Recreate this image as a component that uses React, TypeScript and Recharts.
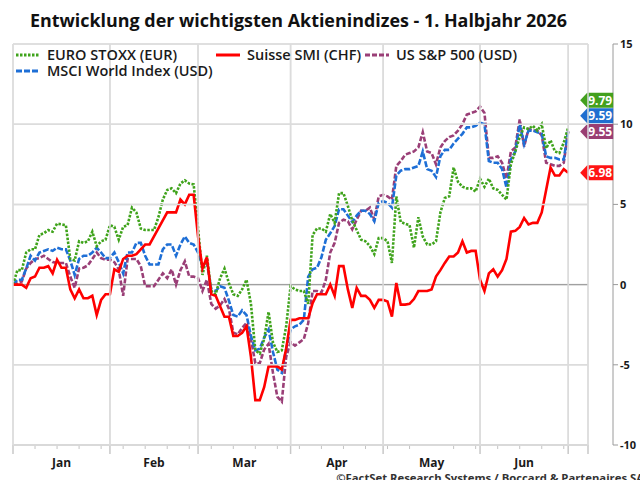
import React from "react";
import { LineChart, Line, XAxis, YAxis, ReferenceLine, ReferenceDot, CartesianGrid } from "recharts";

const FONT = "'Open Sans', 'DejaVu Sans', sans-serif";

const title = "Entwicklung der wichtigsten Aktienindizes - 1. Halbjahr 2026";
const footer = "©FactSet Research Systems / Boccard & Partenaires SA";

const monthLabels = ["Jan", "Feb", "Mar", "Apr", "May", "Jun"];
const monthStarts = [0, 22, 42, 63, 84, 106, 126];
const X_MAX = 130.5;
const yTicks = [-10, -5, 0, 5, 10, 15];

const euroStoxx = [
  0, 0.9, 0.9, 2.0, 2.2, 2.2, 3.1, 3.2, 3.4, 3.3,
  3.8, 3.75, 3.7, 1.6, 1.5, 2.7, 2.6, 2.7, 3.3, 2.4,
  2.7, 2.8, 3.7, 3.6, 2.8, 3.6, 3.7, 4.8, 4.5, 3.5,
  3.4, 3.4, 3.4, 4.2, 5.3, 5.9, 6.0, 5.7, 6.3, 6.5,
  6.3, 6.25, 3.5, 0.6, 1.8, -0.4, -0.6, 0.4, 1.0, 0.1,
  -0.6, -0.7, -0.3, 0.3, -1.2, -4.1, -4.3, -3.4, -1.7, -3.6,
  -4.2, -4.1, -2.6, -0.1, -0.3, -0.4, -0.4, -1.2, 3.1, 3.5,
  3.5, 3.3, 4.4, 3.85, 5.7, 5.7, 4.9, 4.0, 3.4, 2.8,
  2.7, 2.4, 1.9, 2.9, 2.9, 2.7, 1.35, 5.5, 3.9, 3.8,
  3.7, 2.3, 4.2, 3.0, 2.5, 2.5, 2.7, 4.5, 5.4, 5.5,
  7.3, 6.4, 6.1, 6.0, 6.0, 5.8, 6.6, 6.1, 6.6, 6.0,
  5.9, 5.6, 5.3, 7.5, 8.3, 9.2, 9.8, 9.7, 9.9, 9.6,
  10.0, 8.5, 9.0, 8.3, 8.2, 8.85, 9.79,
];

const msciWorld = [
  0, 0.3, 0.3, 1.0, 1.8, 1.5, 2.0, 2.1, 2.2, 2.1,
  2.3, 2.2, 2.2, 1.5, 0.6, 1.6, 1.8, 1.8, 2.0, 2.3,
  2.0, 1.65, 1.65, 2.0, 1.4, 0.7, 2.0, 2.0, 2.6, 2.6,
  1.8, 1.25, 1.25, 1.25, 2.2, 2.5, 2.5, 1.8, 2.5, 3.0,
  2.6, 2.5, 2.0, 1.15, 1.4, -0.3, -0.4, -0.1, -0.2, -1.0,
  -1.9, -2.0, -1.6, -1.9, -3.2, -4.1, -4.0, -3.3, -2.8, -4.2,
  -5.3, -5.5, -4.0, -2.8, -2.6, -2.5, -2.2, 0.5, 0.95, 1.05,
  1.7, 2.8, 3.2, 3.65, 4.7, 4.7, 4.3, 3.9, 4.3, 4.6,
  4.6, 4.4, 3.95, 5.1, 5.2, 5.1, 4.8, 6.8, 7.1, 7.2,
  7.2, 7.3, 7.4, 8.3, 7.2, 7.1, 6.7, 8.0, 8.4, 8.4,
  8.8, 9.1, 9.4, 9.8, 9.8, 9.9, 10.1, 10.0, 7.7, 7.6,
  7.6, 7.2, 6.05, 7.8, 8.3, 10.0, 8.75, 9.6, 9.6, 9.5,
  9.4, 8.0, 7.9, 7.9, 7.8, 7.8, 9.59,
];

const sp500 = [
  0, 0.1, 0.2, 1.0, 1.35, 1.6, 1.65, 1.8, 1.6, 1.4,
  1.35, 1.35, 1.35, 0.5, -0.2, 1.0, 1.05, 1.2, 1.6, 2.0,
  1.65, 1.55, 1.55, 1.4, 0.95, -0.7, 1.6, 1.6, 1.6, 1.15,
  -0.1, -0.1, -0.1, 0.3, 0.7, 0.4, 0.95, 0.0, 0.9, 1.45,
  0.5, 0.5, 0.4, -0.4, 0.3, -1.2, -1.5, -1.3, -0.9, -1.5,
  -3.0, -3.1, -2.7, -2.4, -3.4, -4.9, -4.9, -4.05, -3.7, -5.5,
  -7.0, -7.3, -4.5, -3.6, -3.8, -3.6, -3.4, -2.4, -0.4, -0.4,
  -0.5, 0.3, 2.0, 2.6, 3.85, 4.05, 3.95, 3.45, 4.05, 4.6,
  4.6, 4.8, 4.05, 5.5, 5.6, 5.5, 5.3, 7.4, 7.7, 8.1,
  8.2, 8.3, 8.55, 9.5, 8.3, 8.2, 7.5, 8.55, 8.95, 9.2,
  9.3, 9.6, 10.0, 10.6, 10.7, 10.8, 11.1, 10.7, 7.9, 7.9,
  8.0, 7.6, 6.6, 8.3, 8.55, 10.3, 8.6, 9.7, 9.6, 9.6,
  9.3, 7.6, 7.5, 7.4, 7.4, 7.6, 9.55,
];

const smi = [
  0, 0, 0, -0.2, 0.4, 0.5, 1.05, 1.05, 1.15, 0.7,
  1.55, 1.05, 1.05, -0.3, -0.85, -0.3, -0.85, -0.85, -0.7, -1.9,
  -0.95, -0.6, -0.6, 0.95, 0.8, 1.6, 1.8, 1.8, 1.9, 2.2,
  2.5, 2.5, 3.0, 3.5, 4.0, 4.5, 4.5, 4.5, 5.3, 5.0,
  5.6, 5.6, 3.0, 1.0, 1.7, -0.6, -0.7, -1.35, -2.0, -2.0,
  -3.2, -3.2, -3.0, -2.6, -4.5, -7.2, -7.2, -6.4, -5.1, -5.1,
  -5.1, -5.3, -4.0, -2.2, -2.2, -2.1, -2.1, -2.1, -1.15, -0.6,
  -0.6, -0.6, 0.0, -0.7, 1.15, 1.15, -0.3, -1.45, -0.2, -0.7,
  -0.7, -0.95, -1.45, -0.95, -0.95, -1.05, -2.0, 0.1, -1.25, -1.25,
  -1.2, -0.9, -0.4, -0.4, -0.4, -0.3, 0.5, 0.9, 1.35, 1.75,
  1.75, 2.0, 2.7, 2.0, 2.1, 2.1, 0.3, -0.4, 0.7, 0.95,
  0.5, 0.9, 1.6, 3.3, 3.35, 3.6, 4.15, 3.75, 3.85, 3.85,
  4.5, 5.9, 7.3, 6.8, 6.8, 7.2, 6.98,
];

const series = [
  { key: "sp500", name: "US S&P 500 (USD)", values: sp500, color: "#9A3F77", tag: "#9A3E73", dash: "5 2" },
  { key: "msci", name: "MSCI World Index (USD)", values: msciWorld, color: "#1E6FD6", tag: "#1F6FD0", dash: "6 2" },
  { key: "euro", name: "EURO STOXX (EUR)", values: euroStoxx, color: "#3FA31B", tag: "#43A01E", dash: "2.5 1.5" },
  { key: "smi", name: "Suisse SMI (CHF)", values: smi, color: "#FF0000", tag: "#FF1414", dash: undefined as string | undefined },
];

const data = euroStoxx.map((_, i) => {
  const row: Record<string, number> = { i };
  series.forEach((s) => (row[s.key] = s.values[i]));
  return row;
});

// layout constants
const CHART_W = 640;
const CHART_H = 480;
const M_TOP = 44;
const M_LEFT = 13;
const PAD_W = 25;
const AXIS_W = 27;
const XAXIS_H = 35;
const PLOT_RIGHT = CHART_W - PAD_W - AXIS_W;

const lastIndex = euroStoxx.length - 1;
const monthMid = monthLabels.map((_, k) => (monthStarts[k] + monthStarts[k + 1]) / 2);
const minorTicks = Array.from({ length: 26 }, (_, k) => k * 5).filter(
  (v) => !monthStarts.includes(v) && !monthMid.includes(v)
);
const xTicks = [...monthStarts, X_MAX, ...monthMid, ...minorTicks].sort((a, b) => a - b);
const gridX = [...monthStarts, X_MAX];

// value-label tags are stacked upward so they don't overlap (about one tag height in value units)
const TAG_GAP = 0.97;
const tagPositions: Record<string, number> = (() => {
  const sorted = [...series].sort((a, b) => a.values[lastIndex] - b.values[lastIndex]);
  const out: Record<string, number> = {};
  let prev = -Infinity;
  sorted.forEach((s) => {
    const v = Math.max(s.values[lastIndex], prev + TAG_GAP);
    out[s.key] = v;
    prev = v;
  });
  return out;
})();

const GRID = "#dcdcdc";

const Tag = (props: any) => {
  const { cx, cy, fill, text } = props;
  if (cx == null || cy == null) return null;
  const x0 = cx + 12;
  const h = 7.5;
  return (
    <g>
      <polygon
        points={`${x0},${cy} ${x0 + 7},${cy - h} ${x0 + 33},${cy - h} ${x0 + 33},${cy + h} ${x0 + 7},${cy + h}`}
        fill={fill}
      />
      <text x={x0 + 20} y={cy + 4.5} textAnchor="middle" fill="#fff" fontSize={12} fontWeight={700} fontFamily={FONT}>
        {text}
      </text>
    </g>
  );
};

const XTick = (props: any) => {
  const { x, y, payload } = props;
  const v = payload?.value;
  const k = monthMid.indexOf(v);
  if (k >= 0) {
    return (
      <text x={x} y={y + 22} textAnchor="middle" fontSize={12} fontWeight={700} fill="#1a1a1a" fontFamily={FONT}>
        {monthLabels[k]}
      </text>
    );
  }
  if (gridX.includes(v)) {
    return (
      <g>
        <line x1={x} x2={x} y1={M_TOP} y2={y} stroke={GRID} strokeWidth={1.5} />
        <line x1={x} x2={x} y1={y} y2={y + 9} stroke="#c8c8c8" strokeWidth={1.5} />
      </g>
    );
  }
  return <line x1={x} x2={x} y1={y} y2={y + 4} stroke="#c4c4c4" />;
};

const YTick = (props: any) => {
  const { x, y, payload } = props;
  const v = payload?.value;
  return (
    <g>
      {v !== 0 && <line x1={M_LEFT} x2={PLOT_RIGHT} y1={y} y2={y} stroke={GRID} strokeWidth={1.5} />}
      <text x={x} y={y} dy="0.355em" textAnchor="start" fontSize={11} fontWeight={700} fill="#1a1a1a" fontFamily={FONT}>
        {v}
      </text>
    </g>
  );
};

const LegendIcon = ({ color, dash }: { color: string; dash?: string }) => (
  <svg width={24} height={6} style={{ display: "block" }}>
    <line x1={0} y1={3} x2={24} y2={3} stroke={color} strokeWidth={3} strokeDasharray={dash} />
  </svg>
);

const legendLayout = [
  { key: "euro", left: 16, top: 48 },
  { key: "smi", left: 216, top: 48 },
  { key: "sp500", left: 365, top: 48 },
  { key: "msci", left: 16, top: 64 },
];

export default function App() {
  return (
    <div style={{ position: "relative", width: CHART_W, height: CHART_H, overflow: "hidden", background: "#fff", fontFamily: FONT }}>
      <style>{`body{margin:0}`}</style>
      <LineChart width={CHART_W} height={CHART_H} data={data} margin={{ top: M_TOP, right: 0, bottom: 0, left: M_LEFT }}>
        <CartesianGrid
          xAxisId="x"
          yAxisId="axB"
          stroke={GRID}
          strokeWidth={1.5}
          verticalValues={gridX}
          horizontalValues={yTicks}
        />
        <XAxis
          xAxisId="x"
          dataKey="i"
          type="number"
          domain={[0, X_MAX]}
          ticks={xTicks}
          interval={0}
          height={XAXIS_H}
          tick={<XTick />}
          tickSize={0}
          tickMargin={0}
          tickLine={false}
          axisLine={{ stroke: "#c8c8c8", strokeWidth: 1.5 }}
          allowDataOverflow
        />
        <YAxis
          yAxisId="axB"
          orientation="right"
          width={AXIS_W}
          domain={[-10, 15]}
          ticks={yTicks}
          interval={0}
          axisLine={{ stroke: "#9a9a9a" }}
          tickLine={{ stroke: "#9a9a9a" }}
          tickSize={5}
          tickMargin={2}
          tick={<YTick />}
        />
        <YAxis yAxisId="axA" orientation="right" width={PAD_W} domain={[-10, 15]} tick={false} axisLine={false} tickLine={false} />

        <ReferenceLine xAxisId="x" yAxisId="axB" y={0} stroke="#a0a0a0" strokeWidth={1.2} />

        {series.map((s) => (
          <Line
            key={s.key}
            xAxisId="x"
            yAxisId="axB"
            dataKey={s.key}
            name={s.name}
            type="linear"
            stroke={s.color}
            strokeWidth={2.6}
            strokeDasharray={s.dash}
            dot={false}
            activeDot={false}
            isAnimationActive={false}
          />
        ))}
        {series.map((s) => (
          <ReferenceDot
            key={"tag-" + s.key}
            xAxisId="x"
            yAxisId="axB"
            x={lastIndex}
            y={tagPositions[s.key]}
            r={0}
            shape={(p: any) => <Tag {...p} fill={s.tag} text={s.values[lastIndex].toFixed(2)} />}
          />
        ))}
      </LineChart>

      <div
        style={{
          position: "absolute",
          left: 30,
          top: 8,
          fontSize: 17.9,
          fontWeight: 700,
          color: "#111",
          whiteSpace: "nowrap",
        }}
      >
        {title}
      </div>

      {legendLayout.map((l) => {
        const s = series.find((x) => x.key === l.key)!;
        return (
          <div
            key={l.key}
            style={{
              position: "absolute",
              left: l.left,
              top: l.top,
              height: 14,
              lineHeight: "14px",
              display: "flex",
              alignItems: "center",
              gap: 7,
              fontSize: 14.5,
              color: "#1a1a1a",
              whiteSpace: "nowrap",
              fontWeight: 600,
            }}
          >
            <LegendIcon color={s.color} dash={s.dash} />
            <span>{s.name}</span>
          </div>
        );
      })}

      <div style={{ position: "absolute", right: -4, top: 470, fontSize: 11.3, fontWeight: 700, color: "#333", whiteSpace: "nowrap" }}>
        {footer}
      </div>
    </div>
  );
}
